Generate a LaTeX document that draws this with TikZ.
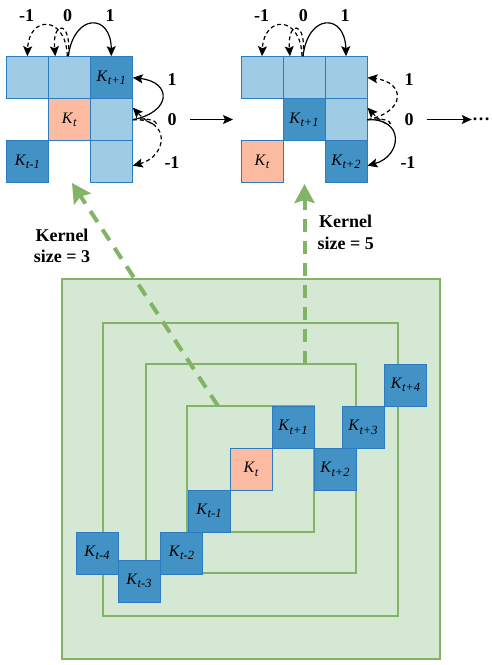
\documentclass[tikz,border=0pt]{standalone}
\usepackage{fontspec}
\setmainfont{Liberation Serif}
\usetikzlibrary{arrows.meta}
\definecolor{lb}{HTML}{A0CBE4}
\definecolor{db}{HTML}{4292C6}
\definecolor{bd}{HTML}{2A7BC0}
\definecolor{sal}{HTML}{FCBBA1}
\definecolor{gline}{HTML}{82B366}
\definecolor{gfill}{HTML}{D5E8D4}
\newcommand\Kk[1]{K\kern0.5pt\raisebox{-3.5pt}{\fontsize{12.5}{12.5}\selectfont #1}}
\begin{document}
\begin{tikzpicture}[x=1pt,y=-1pt,
 cell/.style={draw=bd,line width=1pt,minimum size=42pt,inner sep=0pt,font=\itshape\fontsize{16}{16}\selectfont},
 lcell/.style={cell,fill=lb},
 dcell/.style={cell,fill=db},
 scell/.style={cell,fill=sal},
 num/.style={font=\bfseries\fontsize{18}{18}\selectfont,inner sep=0pt},
 ring/.style={draw=gline,line width=2.8pt},
 garrow/.style={draw=gline,line width=4pt,dash pattern=on 13pt off 9pt,-{Stealth[length=19pt,width=20pt,inset=3pt]}},
 arr/.style={line width=1.2pt,-{Stealth[length=10pt,width=9pt,inset=2pt]}},
 darr/.style={arr,dash pattern=on 4pt off 3pt},
 lab/.style={font=\bfseries\fontsize{18}{21.5}\selectfont,align=center,inner sep=0pt}
]
\useasboundingbox (0,0) rectangle (492,665);

% ---------- bottom rings ----------
\draw[ring,fill=gfill] (62,279) rectangle (440,659);
\draw[ring] (103,323) rectangle (398,616);
\draw[ring] (146,364) rectangle (356,573);
\draw[ring] (187,406) rectangle (314,532);
\coordinate (s3) at (218,406);
\coordinate (s5) at (304.5,364);

% ---------- bottom cells ----------
\node[scell] (b0) at (251,469.5) {\Kk{t}};
\node[dcell] (bp1) at (293,427.5) {\Kk{t+1}};
\node[dcell] (bp2) at (335,469.5) {\Kk{t+2}};
\node[dcell] (bp3) at (363,427.5) {\Kk{t+3}};
\node[dcell] (bp4) at (405.5,385) {\Kk{t+4}};
\node[dcell] (bm1) at (209,511) {\Kk{t-1}};
\node[dcell] (bm2) at (181.5,553) {\Kk{t-2}};
\node[dcell] (bm3) at (139,581) {\Kk{t-3}};
\node[dcell] (bm4) at (97,553) {\Kk{t-4}};

% ---------- top-left grid ----------
\node[lcell] (a11) at (27.3,77.7) {};
\node[lcell] (a12) at (69.3,77.7) {};
\node[dcell] (a13) at (111.3,77.7) {\Kk{t+1}};
\node[scell] (a22) at (69.3,119.7) {\Kk{t}};
\node[lcell] (a23) at (111.3,119.7) {};
\node[dcell] (a31) at (27.3,161.7) {\Kk{t-1}};
\node[lcell] (a33) at (111.3,161.7) {};

% ---------- top-right grid ----------
\node[lcell] (c11) at (262,77.7) {};
\node[lcell] (c12) at (304,77.7) {};
\node[lcell] (c13) at (346,77.7) {};
\node[dcell] (c22) at (304,119.7) {\Kk{t+1}};
\node[lcell] (c23) at (346,119.7) {};
\node[scell] (c31) at (262,161.7) {\Kk{t}};
\node[dcell] (c33) at (346,161.7) {\Kk{t+2}};

% ---------- labels ----------
\node[num] at (26.7,16) {-1};
\node[num] at (67.7,16) {0};
\node[num] at (110,16) {1};
\node[num] at (172,80) {1};
\node[num] (z1) at (172,119.5) {0};
\node[num] at (172,163) {-1};
\node[num] at (261.7,16) {-1};
\node[num] at (303.3,16) {0};
\node[num] at (345,16) {1};
\node[num] at (409,80) {1};
\node[num] (z2) at (409,119.5) {0};
\node[num] at (408,163) {-1};
\node[num] (dots) at (481,119.5) {\dots};
\coordinate (e1) at (233,119.5);

\draw[arr] (190,119.5) -- (e1);
\draw[arr] (426.5,119.5) -- (dots.west);

% ---------- left grid arrows ----------
\draw[arr] ([xshift=-1pt]a12.north) .. controls (74,13) and (111,13) .. (a13.north);
\draw[darr] ([xshift=-2pt]a12.north) .. controls (66,15) and (29,15) .. (a11.north);
\draw[darr] ([xshift=-1pt]a12.north) .. controls (72,20) and (52,20) .. ([xshift=-14pt]a12.north);
\draw[arr] (a23.east) .. controls (172,112) and (172,82) .. (a13.east);
\draw[darr] (a23.east) .. controls (166,115) and (160,136) .. ([yshift=12pt]a23.east);
\draw[darr] (a23.east) .. controls (171,118) and (168,156) .. ([yshift=-4pt]a33.east);

% ---------- right grid arrows ----------
\draw[arr] ([xshift=-1pt]c12.north) .. controls (308,13) and (345,13) .. (c13.north);
\draw[darr] ([xshift=-2pt]c12.north) .. controls (301,15) and (264,15) .. (c11.north);
\draw[darr] ([xshift=-1pt]c12.north) .. controls (307,20) and (287,20) .. ([xshift=-14pt]c12.north);
\draw[darr] (c23.east) .. controls (406,112) and (406,82) .. (c13.east);
\draw[darr] (c23.east) .. controls (400,115) and (394,136) .. ([yshift=12pt]c23.east);
\draw[arr] (c23.east) .. controls (405,118) and (402,156) .. ([yshift=-4pt]c33.east);

% ---------- green arrows ----------
\coordinate (t3) at (72,183);
\coordinate (t5) at (304.5,184);
\draw[garrow] (s3) -- (t3);
\draw[garrow] (s5) -- (t5);
\node[lab] at (62,246) {Kernel\\size = 3};
\node[lab] at (345.7,232.5) {Kernel\\size = 5};
\end{tikzpicture}
\end{document}
